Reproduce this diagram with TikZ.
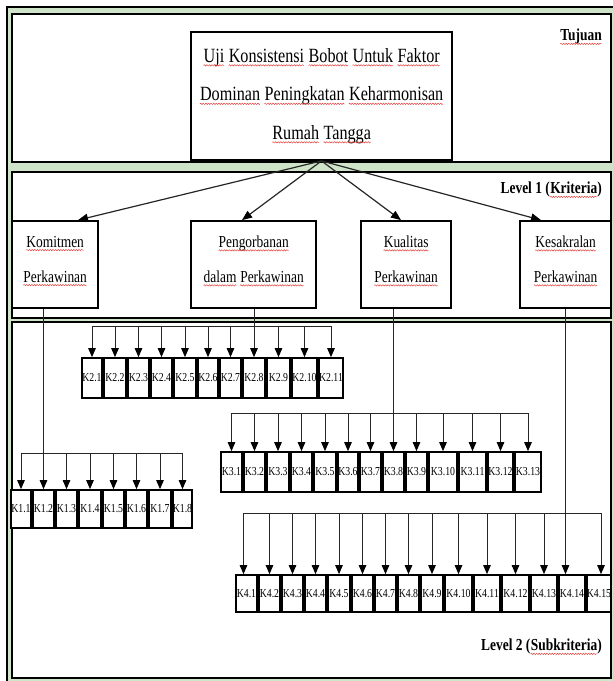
\documentclass[tikz,border=0pt]{standalone}
\usepackage{fontspec}
\setmainfont{Liberation Serif}[FakeStretch=0.8]
\usetikzlibrary{arrows.meta,calc,decorations.pathmorphing}
\definecolor{frameg}{HTML}{CFE3C8}
\definecolor{lnk}{HTML}{262626}
\definecolor{wavered}{HTML}{E53935}
\newlength\sqw
\newcommand\sq[1]{\settowidth\sqw{#1}\tikz[baseline=0pt,x=1pt,y=1pt]{\node[inner sep=0pt,anchor=base west,font=] (sqn) at (0pt,0pt) {#1};\draw[wavered,line width=0.45pt,decorate,decoration={snake,amplitude=0.7pt,segment length=2.6pt}] (0pt,-3pt) -- (\sqw,-3pt);}}
\begin{document}
\begin{tikzpicture}[x=1pt,y=-1pt,
  panel/.style={draw=black,fill=white,line width=2pt},
  bigbox/.style={draw=black,fill=white,line width=1.8pt,inner sep=0pt},
  toptext/.style={align=center,font=\fontsize{20.2}{38.5}\selectfont,inner sep=0pt},
  lvtext/.style={align=center,font=\fontsize{16.8}{35}\selectfont,inner sep=0pt},
  tag/.style={anchor=east,font=\fontsize{16.8}{18}\selectfont\bfseries,inner sep=0pt},
  kbox/.style={draw=black,fill=white,line width=1.7pt,inner sep=0pt,font=\fontsize{12.2}{13}\selectfont},
  conn/.style={draw=lnk,line width=0.9pt},
  arr/.style={draw=lnk,line width=0.9pt,-{Triangle[length=9pt,width=7.5pt,color=black]}},
  bigarr/.style={draw=lnk,line width=1.2pt,-{Triangle[length=10pt,width=8pt,color=black]}}]
\useasboundingbox (0,0) rectangle (613,681);
% frame and panels
\fill[white] (0,0) rectangle (613,681);
\draw[fill=frameg,draw=black,line width=1.5pt] (7,7) rectangle (630,695);
\draw[panel] (12,14) rectangle (611,162);
\draw[panel] (12,172) rectangle (611,318);
\draw[panel] (12,322) rectangle (611,678);
% labels
\node[tag] (tuj) at (602,37) {\sq{Tujuan}};
\node[tag] (lv1) at (602,190) {Level 1 (\sq{Kriteria})};
\node[tag] (lv2) at (602,647) {Level 2 (\sq{Subkriteria})};
% top box
\node[bigbox,minimum width=261,minimum height=128] (top) at (321.5,96) {};
\node[toptext] (toptx) at (321.5,96) {\sq{Uji} \sq{Konsistensi} \sq{Bobot} \sq{Untuk} \sq{Faktor}\\ \sq{Dominan} \sq{Peningkatan} \sq{Keharmonisan}\\ \sq{Rumah} \sq{Tangga}};
% level 1 boxes
\node[bigbox,minimum width=86,minimum height=87] (kom) at (55,264.5) {};
\node[bigbox,minimum width=125,minimum height=87] (pen) at (253.5,264.5) {};
\node[bigbox,minimum width=90,minimum height=87] (kua) at (406,264.5) {};
\node[bigbox,minimum width=91,minimum height=87] (kes) at (565.5,264.5) {};
\node[lvtext] (komt) at (55,261) {\sq{Komitmen}\\ \sq{Perkawinan}};
\node[lvtext] (pent) at (253.5,261) {\sq{Pengorbanan}\\ \sq{dalam} \sq{Perkawinan}};
\node[lvtext] (kuat) at (406,261) {\sq{Kualitas}\\ \sq{Perkawinan}};
\node[lvtext] (kest) at (565.5,261) {\sq{Kesakralan}\\ \sq{Perkawinan}};
% arrows top -> level 1
\draw[bigarr] (top.south) -- ([xshift=23pt]kom.north);
\draw[bigarr] (top.south) -- ([xshift=-11.5pt]pen.north);
\draw[bigarr] (top.south) -- ([xshift=-5pt]kua.north);
\draw[bigarr] (top.south) -- ([xshift=-24.5pt]kes.north);
% K1 row
\foreach \n/\l/\r in {1/10/32,2/32/55,3/55/78,4/78/102,5/102/125,6/125/148,7/148/172,8/172/193}
  \node[kbox,minimum width={\r-\l-2},minimum height=38] (k1-\n) at ({(\l+\r)/2},509) {K1.\n};
% K2 row
\foreach \n/\l/\r in {1/81/103,2/103/127,3/127/150,4/150/173,5/173/197,6/197/219,7/219/242,8/242/266,9/266/291,10/291/318,11/318/344}
  \node[kbox,minimum width={\r-\l-2},minimum height=40] (k2-\n) at ({(\l+\r)/2},378) {K2.\n};
% K3 row
\foreach \n/\l/\r in {1/220/243,2/243/266,3/266/290,4/290/313,5/313/337,6/337/359,7/359/382,8/382/405,9/405/428,10/428/458,11/458/487,12/487/514,13/514/542}
  \node[kbox,minimum width={\r-\l-2},minimum height=40] (k3-\n) at ({(\l+\r)/2},472) {K3.\n};
% K4 row
\foreach \n/\l/\r in {1/235/258,2/258/281,3/281/304,4/304/327,5/327/351,6/351/374,7/374/397,8/397/420,9/420/444,10/444/473,11/473/501,12/501/530,13/530/558,14/558/586,15/586/612}
  \node[kbox,minimum width={\r-\l-2},minimum height=37] (k4-\n) at ({(\l+\r)/2},593.5) {K4.\n};
% bars
\coordinate (bar1) at (0,453);
\coordinate (bar2) at (0,326);
\coordinate (bar3) at (0,413);
\coordinate (bar4) at (0,513);
\draw[conn] (k1-1.north |- bar1) -- (k1-8.north |- bar1);
\draw[conn] (k2-1.north |- bar2) -- (k2-11.north |- bar2);
\draw[conn] (k3-1.north |- bar3) -- (k3-13.north |- bar3);
\draw[conn] ([xshift=-3pt]k4-1.north |- bar4) -- ([xshift=2pt]k4-15.north |- bar4);
% trunks
\draw[conn] (k1-2.north |- kom.south) -- (k1-2.north |- bar1);
\draw[conn] (k2-8.north |- pen.south) -- (k2-8.north |- bar2);
\draw[conn] (k3-8.north |- kua.south) -- (k3-8.north |- bar3);
\draw[conn] (kes.south) -- (kes.south |- bar4);
% arrows to children
\foreach \n in {1,...,8} \draw[arr] (k1-\n.north |- bar1) -- (k1-\n.north);
\foreach \n in {1,...,11} \draw[arr] (k2-\n.north |- bar2) -- (k2-\n.north);
\foreach \n in {1,...,13} \draw[arr] (k3-\n.north |- bar3) -- (k3-\n.north);
\foreach \n in {2,...,13} \draw[arr] (k4-\n.north |- bar4) -- (k4-\n.north);
\draw[arr] ([xshift=-3pt]k4-1.north |- bar4) -- ([xshift=-3pt]k4-1.north);
\draw[arr] (kes.south |- bar4) -- (kes.south |- k4-14.north);
\draw[arr] ([xshift=2pt]k4-15.north |- bar4) -- ([xshift=2pt]k4-15.north);
\end{tikzpicture}
\end{document}
